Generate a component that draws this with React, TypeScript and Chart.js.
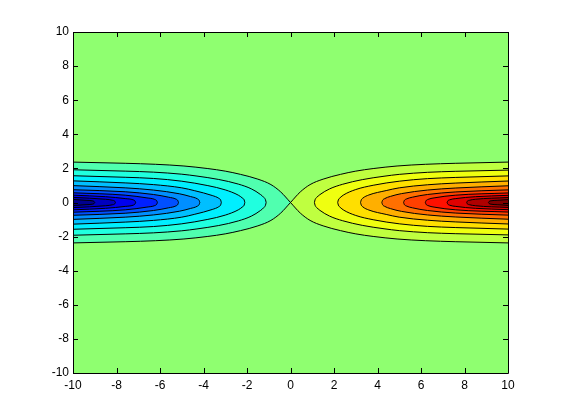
import React, { useEffect, useRef } from "react";
import { Chart, registerables } from "chart.js";

Chart.register(...registerables);

// Axis ticks
const X_TICKS = [-10, -8, -6, -4, -2, 0, 2, 4, 6, 8, 10];
const Y_TICKS = [-10, -8, -6, -4, -2, 0, 2, 4, 6, 8, 10];

// Colour of the region around zero (jet colormap middle)
const BACKGROUND_COLOR = "#8FFF70";

// Band colours, outermost contour first
const RIGHT_BAND_COLORS = ["#BFFF40", "#EFFF10", "#FFDF00", "#FFAF00", "#FF7000", "#FF4000", "#FF1000", "#DF0000", "#AF0000", "#800000"];
const LEFT_BAND_COLORS = ["#50FFAF", "#20FFDF", "#00EFFF", "#00BFFF", "#008FFF", "#0050FF", "#0020FF", "#0000EF", "#0000BF", "#00008F"];

// Upper half of each contour on the right side: [x, y], outermost first (mirrored in y)
const RIGHT_L0 = [[0, 0], [0.45, 0.62], [0.9, 1.05], [1.5, 1.37], [2.3, 1.65], [3, 1.84], [3.8, 1.99], [4.9, 2.14], [6.2, 2.24], [7.6, 2.3], [10, 2.37]];
const RIGHT_L1 = [[1.1, 0], [1.13, 0.16], [1.2, 0.29], [1.35, 0.46], [1.8, 0.8], [2.4, 1.07], [3.3, 1.34], [4.3, 1.54], [5, 1.65], [6.3, 1.77], [7.6, 1.83], [10, 1.9]];
const RIGHT_L2 = [[2.17, 0], [2.2, 0.15], [2.28, 0.28], [2.45, 0.45], [3, 0.76], [3.8, 1.01], [5, 1.25], [6.3, 1.4], [7.6, 1.47], [10, 1.56]];
const RIGHT_L3 = [[3.22, 0], [3.25, 0.14], [3.33, 0.26], [3.6, 0.44], [4.4, 0.7], [5, 0.86], [6.3, 1.04], [7.6, 1.14], [10, 1.26]];
const RIGHT_L4 = [[4.2, 0], [4.23, 0.12], [4.32, 0.22], [4.6, 0.36], [5.1, 0.52], [6.3, 0.73], [7.6, 0.85], [10, 0.98]];
const RIGHT_L5 = [[5.2, 0], [5.23, 0.11], [5.32, 0.2], [5.6, 0.31], [6.3, 0.47], [7.6, 0.62], [10, 0.74]];
const RIGHT_L6 = [[6.2, 0], [6.23, 0.1], [6.32, 0.18], [6.6, 0.27], [7.6, 0.43], [10, 0.56]];
const RIGHT_L7 = [[7.2, 0], [7.23, 0.09], [7.32, 0.16], [7.6, 0.23], [8.5, 0.34], [10, 0.42]];
const RIGHT_L8 = [[8.1, 0], [8.13, 0.08], [8.22, 0.13], [8.5, 0.19], [10, 0.29]];
const RIGHT_L9 = [[9.1, 0], [9.13, 0.06], [9.22, 0.1], [9.5, 0.13], [10, 0.17]];

// Upper half of each contour on the left side: [x, y], outermost first
const LEFT_L0 = [[-10, 2.37], [-7.6, 2.3], [-6.2, 2.24], [-4.9, 2.14], [-3.8, 1.99], [-3, 1.84], [-2.3, 1.65], [-1.5, 1.37], [-0.9, 1.05], [-0.45, 0.62], [0, 0]];
const LEFT_L1 = [[-10, 1.92], [-7.6, 1.84], [-6.3, 1.78], [-5, 1.66], [-4.3, 1.55], [-3.3, 1.35], [-2.4, 1.08], [-1.8, 0.8], [-1.37, 0.46], [-1.22, 0.29], [-1.15, 0.16], [-1.12, 0]];
const LEFT_L2 = [[-10, 1.57], [-7.6, 1.48], [-6.3, 1.41], [-5, 1.25], [-3.8, 0.99], [-3, 0.74], [-2.4, 0.43], [-2.22, 0.27], [-2.13, 0.15], [-2.1, 0]];
const LEFT_L3 = [[-10, 1.27], [-7.6, 1.15], [-6.3, 1.05], [-5, 0.86], [-4.4, 0.69], [-3.6, 0.41], [-3.3, 0.25], [-3.21, 0.14], [-3.18, 0]];
const LEFT_L4 = [[-10, 0.99], [-7.6, 0.86], [-6.3, 0.73], [-5.1, 0.51], [-4.6, 0.35], [-4.29, 0.22], [-4.2, 0.12], [-4.17, 0]];
const LEFT_L5 = [[-10, 0.75], [-7.6, 0.63], [-6.3, 0.47], [-5.6, 0.31], [-5.27, 0.2], [-5.18, 0.11], [-5.15, 0]];
const LEFT_L6 = [[-10, 0.57], [-7.6, 0.43], [-6.6, 0.27], [-6.24, 0.18], [-6.15, 0.1], [-6.12, 0]];
const LEFT_L7 = [[-10, 0.43], [-8.5, 0.34], [-7.6, 0.23], [-7.24, 0.16], [-7.15, 0.09], [-7.12, 0]];
const LEFT_L8 = [[-10, 0.3], [-8.5, 0.19], [-8.17, 0.13], [-8.08, 0.08], [-8.05, 0]];
const LEFT_L9 = [[-10, 0.18], [-9.4, 0.13], [-9.12, 0.1], [-9.03, 0.06], [-9, 0]];

const RIGHT_CONTOURS = [RIGHT_L0, RIGHT_L1, RIGHT_L2, RIGHT_L3, RIGHT_L4, RIGHT_L5, RIGHT_L6, RIGHT_L7, RIGHT_L8, RIGHT_L9];
const LEFT_CONTOURS = [LEFT_L0, LEFT_L1, LEFT_L2, LEFT_L3, LEFT_L4, LEFT_L5, LEFT_L6, LEFT_L7, LEFT_L8, LEFT_L9];

const FONT = { family: "'Liberation Sans', Arial, Helvetica, sans-serif", size: 12 };

function buildDatasets() {
  const datasets: any[] = [];
  const add = (pts: number[][], color: string, level: number) => {
    const common = {
      showLine: true,
      pointRadius: 0,
      borderColor: "#000000",
      borderWidth: 1,
      cubicInterpolationMode: "monotone",
      order: 100 - level,
    };
    datasets.push({ ...common, data: pts.map(([x, y]) => ({ x, y })), fill: "+1", backgroundColor: color });
    datasets.push({ ...common, data: pts.map(([x, y]) => ({ x, y: -y })), fill: false, backgroundColor: color });
  };
  RIGHT_CONTOURS.forEach((c, i) => add(c, RIGHT_BAND_COLORS[i], i));
  LEFT_CONTOURS.forEach((c, i) => add(c, LEFT_BAND_COLORS[i], i));
  return datasets;
}

const matlabAxes = {
  id: "matlabAxes",
  beforeDraw(chart: any) {
    const { ctx, chartArea } = chart;
    ctx.save();
    ctx.fillStyle = BACKGROUND_COLOR;
    ctx.fillRect(chartArea.left, chartArea.top, chartArea.right - chartArea.left, chartArea.bottom - chartArea.top);
    ctx.restore();
  },
  afterDraw(chart: any) {
    const { ctx, chartArea } = chart;
    const { left, right, top, bottom } = chartArea;
    const xs = chart.scales.x;
    const ys = chart.scales.y;
    const tl = 5;
    ctx.save();
    ctx.strokeStyle = "#000000";
    ctx.lineWidth = 1;
    ctx.beginPath();
    X_TICKS.forEach((v) => {
      const px = Math.round(xs.getPixelForValue(v)) + 0.5;
      ctx.moveTo(px, bottom);
      ctx.lineTo(px, bottom - tl);
      ctx.moveTo(px, top);
      ctx.lineTo(px, top + tl);
    });
    Y_TICKS.forEach((v) => {
      const py = Math.round(ys.getPixelForValue(v)) + 0.5;
      ctx.moveTo(left, py);
      ctx.lineTo(left + tl, py);
      ctx.moveTo(right, py);
      ctx.lineTo(right - tl, py);
    });
    ctx.stroke();
    ctx.beginPath();
    ctx.rect(Math.round(left) + 0.5, Math.round(top) + 0.5, Math.round(right - left), Math.round(bottom - top));
    ctx.stroke();
    ctx.restore();
  },
};

export default function App() {
  const ref = useRef<HTMLCanvasElement>(null);
  useEffect(() => {
    const chart = new Chart(ref.current as HTMLCanvasElement, {
      type: "scatter",
      data: { datasets: buildDatasets() },
      options: {
        animation: false,
        responsive: false,
        devicePixelRatio: 1,
        layout: { padding: { top: 32, right: 53, left: 0, bottom: 0 } },
        plugins: {
          legend: { display: false },
          tooltip: { enabled: false },
          filler: { drawTime: "beforeDatasetsDraw" },
        },
        scales: {
          x: {
            type: "linear",
            min: -10,
            max: 10,
            afterBuildTicks: (scale: any) => {
              scale.ticks = X_TICKS.map((v) => ({ value: v }));
            },
            afterFit: (scale: any) => {
              scale.height = 47;
              scale.paddingLeft = 0;
              scale.paddingRight = 0;
            },
            grid: { display: false, drawTicks: false },
            border: { display: false },
            ticks: { color: "#000000", font: FONT, padding: 5, maxRotation: 0, autoSkip: false },
          },
          y: {
            type: "linear",
            min: -10,
            max: 10,
            afterBuildTicks: (scale: any) => {
              scale.ticks = Y_TICKS.map((v) => ({ value: v }));
            },
            afterFit: (scale: any) => {
              scale.width = 73;
              scale.paddingTop = 0;
              scale.paddingBottom = 0;
            },
            grid: { display: false, drawTicks: false },
            border: { display: false },
            ticks: { color: "#000000", font: FONT, padding: 4, autoSkip: false },
          },
        },
      } as any,
      plugins: [matlabAxes],
    });
    return () => chart.destroy();
  }, []);
  return (
    <div style={{ position: "absolute", left: 0, top: 0, width: 561, height: 420 }}>
      <canvas ref={ref} width={561} height={420} style={{ width: 561, height: 420, display: "block" }} />
    </div>
  );
}
